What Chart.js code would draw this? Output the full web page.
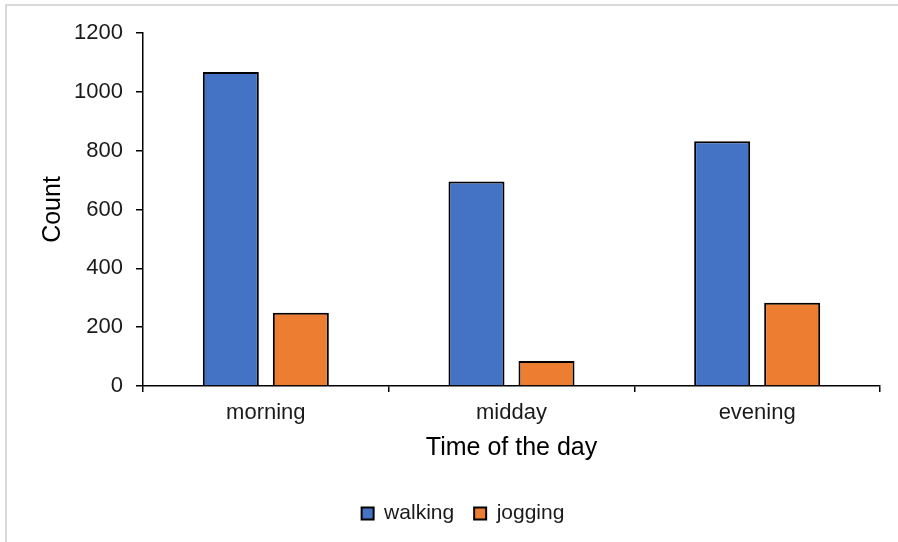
<!DOCTYPE html>
<html>
<head>
<meta charset="utf-8">
<script src="https://cdn.jsdelivr.net/npm/chart.js@4.4.1/dist/chart.umd.min.js"></script>
<style>
    html, body { margin: 0; padding: 0; background: #fff; }
    #wrap { position: relative; width: 898px; height: 542px; }
</style>
</head>
<body>
<div id="wrap"><canvas id="grafico"></canvas></div>
<script>
    // Datos
    const categorias = ['morning', 'midday', 'evening'];
    const walking = [1067, 695, 832];
    const jogging = [249, 85, 283];
    const ticksY = [0, 200, 400, 600, 800, 1000, 1200];

    const azul = '#4472C4';
    const naranja = '#ED7D31';
    const fuente = 'Arial, "Liberation Sans", sans-serif';

    // Marco gris del área del gráfico (como en Excel)
    const marco = {
        id: 'marco',
        afterLayout(chart) {
            // la leyenda del original está algo corrida a la derecha
            chart.legend.left += 23;
            chart.legend.right += 23;
        },
        beforeDraw(chart) {
            const c = chart.ctx;
            c.save();
            c.fillStyle = '#fff';
            c.fillRect(0, 0, chart.width, chart.height);
            c.strokeStyle = '#d9d9d9';
            c.lineWidth = 2;
            c.beginPath();
            c.moveTo(6, chart.height);
            c.lineTo(6, 5);
            c.lineTo(chart.width, 5);
            c.stroke();
            c.restore();
        }
    };

    const ctx = document.getElementById('grafico').getContext('2d');
    new Chart(ctx, {
        type: 'bar',
        data: {
            labels: categorias,
            datasets: [
                { label: 'walking', data: walking, backgroundColor: azul, borderColor: '#000', borderWidth: 2 },
                { label: 'jogging', data: jogging, backgroundColor: naranja, borderColor: '#000', borderWidth: 2 }
            ]
        },
        options: {
            responsive: true,
            maintainAspectRatio: false,
            animation: false,
            barPercentage: 0.8,
            categoryPercentage: 0.57,
            layout: { padding: { top: 33, right: 18, left: 0, bottom: 8 } },
            scales: {
                x: {
                    offset: true,
                    grid: { display: true, offset: true, drawOnChartArea: false, drawTicks: true, tickLength: 6, color: '#000', lineWidth: 1.5 },
                    border: { display: true, color: '#000', width: 1.5 },
                    ticks: { color: '#1a1a1a', font: { family: fuente, size: 22 }, padding: 8, maxRotation: 0 },
                    title: { display: true, text: 'Time of the day', color: '#000', font: { family: fuente, size: 25 }, padding: { top: 0, bottom: 20 } },
                    afterFit(scale) { scale.height = 97; }
                },
                y: {
                    min: 0,
                    max: 1200,
                    afterBuildTicks(scale) { scale.ticks = ticksY.map(v => ({ value: v })); },
                    grid: { display: true, drawOnChartArea: false, drawTicks: true, tickLength: 7, color: '#000', lineWidth: 1.5 },
                    border: { display: true, color: '#000', width: 1.5 },
                    ticks: { color: '#1a1a1a', font: { family: fuente, size: 22 }, padding: 13, callback: v => String(v) },
                    title: { display: true, text: 'Count', color: '#000', font: { family: fuente, size: 25 }, padding: { top: 38, bottom: 0 } },
                    afterFit(scale) { scale.width = 143; }
                }
            },
            plugins: {
                legend: {
                    position: 'bottom',
                    labels: {
                        color: '#1a1a1a',
                        font: { family: fuente, size: 21 },
                        boxWidth: 12,
                        boxHeight: 12,
                        padding: 20,
                        generateLabels(chart) {
                            return chart.data.datasets.map((ds, i) => ({
                                text: ds.label,
                                fillStyle: ds.backgroundColor,
                                strokeStyle: '#000',
                                lineWidth: 2,
                                fontColor: '#1a1a1a',
                                datasetIndex: i
                            }));
                        }
                    }
                },
                tooltip: { enabled: false }
            }
        },
        plugins: [marco]
    });
</script>
</body>
</html>
